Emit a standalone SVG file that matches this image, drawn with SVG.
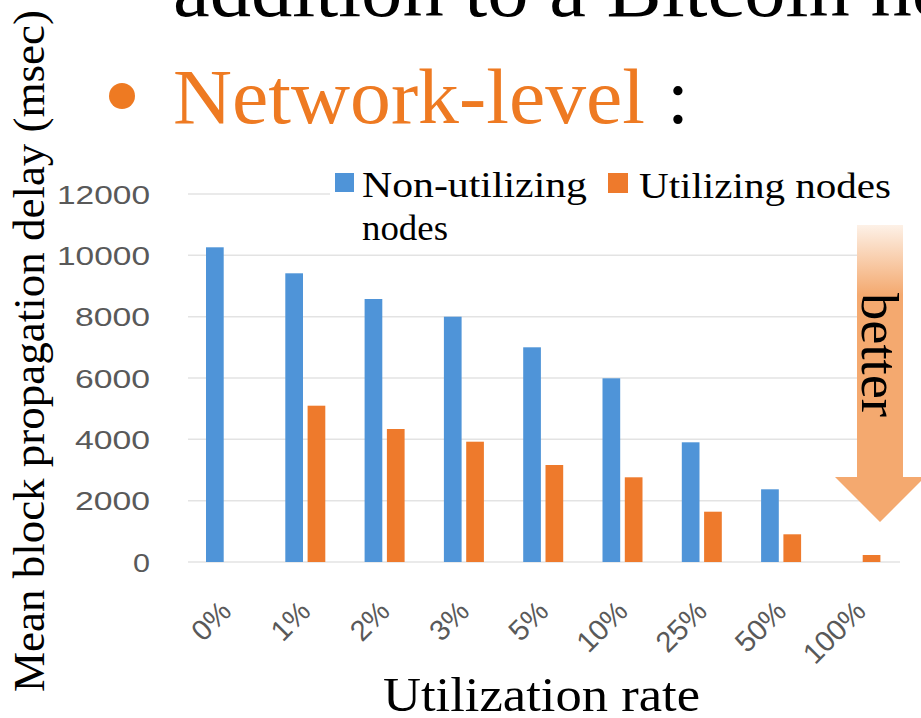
<svg xmlns="http://www.w3.org/2000/svg" width="921" height="718" viewBox="0 0 921 718">
  <defs>
    <style>
      .serif { font-family: "Liberation Serif", "DejaVu Serif", serif; }
      .tick { font-family: "Liberation Sans", "DejaVu Sans", sans-serif; font-size: 26px; fill: #595959; }
      .xtick { font-family: "Liberation Sans", "DejaVu Sans", sans-serif; font-size: 29px; fill: #595959; }
      .grid { stroke: #e3e3e3; stroke-width: 1.5; }
      .blue { fill: #4f94d8; }
      .orange { fill: #ee7a2c; }
    </style>
    <linearGradient id="arrowFill" gradientUnits="userSpaceOnUse" x1="0" y1="225" x2="0" y2="295">
      <stop offset="0" stop-color="#fdf1e7"/>
      <stop offset="1" stop-color="#f4a96f"/>
    </linearGradient>
  </defs>

  <rect width="921" height="718" fill="#ffffff"/>

  <!-- slide heading -->
  <g id="heading">
    <text class="serif" x="173" y="15.5" font-size="79" fill="#000" textLength="858" lengthAdjust="spacingAndGlyphs">addition to a Bitcoin node</text>
    <circle cx="122" cy="96" r="13" fill="#ee7a22"/>
    <text class="serif" x="173" y="123" font-size="79" fill="#ee7a22" textLength="472" lengthAdjust="spacingAndGlyphs">Network-level</text>
    <text class="serif" x="667" y="123" font-size="79" fill="#000">:</text>
  </g>

  <!-- gridlines -->
  <g id="grid">
    <line class="grid" x1="188" y1="194" x2="880" y2="194"/>
    <line class="grid" x1="188" y1="255.3" x2="880" y2="255.3"/>
    <line class="grid" x1="188" y1="316.7" x2="880" y2="316.7"/>
    <line class="grid" x1="188" y1="378" x2="880" y2="378"/>
    <line class="grid" x1="188" y1="439.3" x2="880" y2="439.3"/>
    <line class="grid" x1="188" y1="500.7" x2="880" y2="500.7"/>
    <line class="grid" x1="188" y1="562" x2="900" y2="562"/>
  </g>

  <!-- legend -->
  <g id="legend">
    <rect x="330" y="163" width="570" height="86" fill="#ffffff"/>
    <rect class="blue" x="335" y="173" width="19" height="19"/>
    <text class="serif" x="362" y="197" font-size="36" fill="#000" textLength="225" lengthAdjust="spacingAndGlyphs">Non-utilizing</text>
    <text class="serif" x="362" y="240" font-size="36" fill="#000" textLength="86" lengthAdjust="spacingAndGlyphs">nodes</text>
    <rect class="orange" x="608" y="173" width="20" height="20"/>
    <text class="serif" x="639" y="198" font-size="36" fill="#000" textLength="252" lengthAdjust="spacingAndGlyphs">Utilizing nodes</text>
  </g>

  <!-- y axis -->
  <g id="y-axis">
    <text class="tick" x="150" y="203.5" text-anchor="end" textLength="93" lengthAdjust="spacingAndGlyphs">12000</text>
    <text class="tick" x="150" y="264.5" text-anchor="end" textLength="93" lengthAdjust="spacingAndGlyphs">10000</text>
    <text class="tick" x="150" y="326" text-anchor="end" textLength="75" lengthAdjust="spacingAndGlyphs">8000</text>
    <text class="tick" x="150" y="387.5" text-anchor="end" textLength="75" lengthAdjust="spacingAndGlyphs">6000</text>
    <text class="tick" x="150" y="448.5" text-anchor="end" textLength="75" lengthAdjust="spacingAndGlyphs">4000</text>
    <text class="tick" x="150" y="510" text-anchor="end" textLength="75" lengthAdjust="spacingAndGlyphs">2000</text>
    <text class="tick" x="150" y="571.5" text-anchor="end" textLength="17" lengthAdjust="spacingAndGlyphs">0</text>
    <text class="serif" transform="translate(44,692) rotate(-90)" font-size="44" fill="#000" textLength="682" lengthAdjust="spacingAndGlyphs">Mean block propagation delay (msec)</text>
  </g>

  <!-- bars: non-utilizing nodes -->
  <g id="series-non-utilizing">
    <rect class="blue" x="206" y="247.3" width="17.7" height="314.7"/>
    <rect class="blue" x="285.3" y="273.3" width="17.7" height="288.7"/>
    <rect class="blue" x="364.6" y="299" width="17.7" height="263"/>
    <rect class="blue" x="443.9" y="316.7" width="17.7" height="245.3"/>
    <rect class="blue" x="523.2" y="347.3" width="17.7" height="214.7"/>
    <rect class="blue" x="602.5" y="378.3" width="17.7" height="183.7"/>
    <rect class="blue" x="681.8" y="442.3" width="17.7" height="119.7"/>
    <rect class="blue" x="761.1" y="489.3" width="17.7" height="72.7"/>
  </g>

  <!-- bars: utilizing nodes -->
  <g id="series-utilizing">
    <rect class="orange" x="307.6" y="405.7" width="17.7" height="156.3"/>
    <rect class="orange" x="386.9" y="429" width="17.7" height="133"/>
    <rect class="orange" x="466.2" y="441.7" width="17.7" height="120.3"/>
    <rect class="orange" x="545.5" y="465" width="17.7" height="97"/>
    <rect class="orange" x="624.8" y="477.3" width="17.7" height="84.7"/>
    <rect class="orange" x="704.1" y="511.7" width="17.7" height="50.3"/>
    <rect class="orange" x="783.4" y="534.3" width="17.7" height="27.7"/>
    <rect class="orange" x="862.7" y="555" width="17.7" height="7"/>
  </g>

  <!-- x axis -->
  <g id="x-axis">
    <text class="xtick" transform="translate(233,613) rotate(-45)" text-anchor="end">0%</text>
    <text class="xtick" transform="translate(312.3,613) rotate(-45)" text-anchor="end">1%</text>
    <text class="xtick" transform="translate(391.6,613) rotate(-45)" text-anchor="end">2%</text>
    <text class="xtick" transform="translate(470.9,613) rotate(-45)" text-anchor="end">3%</text>
    <text class="xtick" transform="translate(550.2,613) rotate(-45)" text-anchor="end">5%</text>
    <text class="xtick" transform="translate(629.5,613) rotate(-45)" text-anchor="end">10%</text>
    <text class="xtick" transform="translate(708.8,613) rotate(-45)" text-anchor="end">25%</text>
    <text class="xtick" transform="translate(788.1,613) rotate(-45)" text-anchor="end">50%</text>
    <text class="xtick" transform="translate(867.4,613) rotate(-45)" text-anchor="end">100%</text>
    <text class="serif" x="383" y="711" font-size="48" fill="#000" textLength="317" lengthAdjust="spacingAndGlyphs">Utilization rate</text>
  </g>

  <!-- "better" arrow -->
  <g id="better-arrow">
    <path d="M857,225 H903 V477 H925 L880,522 L835,477 H857 Z" fill="url(#arrowFill)"/>
    <text class="serif" transform="translate(862,293) rotate(90)" font-size="52" fill="#000" textLength="124" lengthAdjust="spacingAndGlyphs">better</text>
  </g>
</svg>
